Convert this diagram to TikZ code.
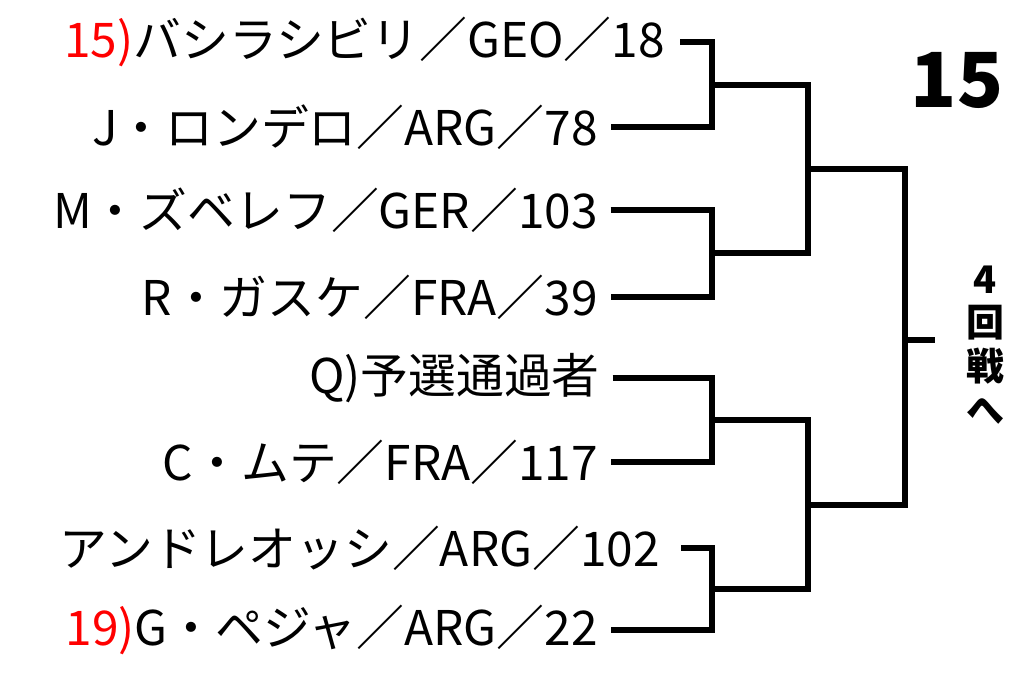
\documentclass[tikz,border=0pt]{standalone}
\usepackage{fontspec}
\setmainfont{Noto Sans CJK JP}
\begin{document}
\begin{tikzpicture}[x=0.025cm,y=-0.025cm,
  lab/.style={anchor=east,inner sep=0pt,font=\fontsize{34}{36}\selectfont},
  br/.style={line width=3.6pt}]
\useasboundingbox (0,0) rectangle (1024,675);
\node[lab] (p1) at (665,42) {\textcolor{red}{15)}バシラシビリ／GEO／18};
\node[lab] (p2) at (598,127) {J・ロンデロ／ARG／78};
\node[lab] (p3) at (598,210) {M・ズベレフ／GER／103};
\node[lab] (p4) at (598,297) {R・ガスケ／FRA／39};
\node[lab] (p5) at (600,378) {Q)予選通過者};
\node[lab] (p6) at (598,462) {C・ムテ／FRA／117};
\node[lab] (p7) at (660,548) {アンドレオッシ／ARG／102};
\node[lab] (p8) at (598,630) {\textcolor{red}{19)}G・ペジャ／ARG／22};
\node[font=\fontsize{54}{58}\selectfont\bfseries,inner sep=0pt] (seed) at (957,80) {15};
\node[align=center,font=\fontsize{27}{31}\selectfont\bfseries,inner sep=0pt] (nx) at (985,345) {4\\回\\戦\\へ};
\draw[br] (p1.east)+(15,0) -| (712,127) -- ([xshift=9pt]p2.east);
\draw[br] ([xshift=9pt]p3.east) -| (712,297) -- ([xshift=9pt]p4.east);
\draw[br] ([xshift=9pt]p5.east) -| (712,462) -- ([xshift=9pt]p6.east);
\draw[br] ([xshift=15pt]p7.east) -| (712,630) -- ([xshift=9pt]p8.east);
\draw[br] (712,85) -| (808,253) -- (712,253);
\draw[br] (712,420) -| (808,589) -- (712,589);
\draw[br] (808,169) -| (905,505) -- (808,505);
\draw[br] (905,340) -- (935,340);
\end{tikzpicture}
\end{document}
